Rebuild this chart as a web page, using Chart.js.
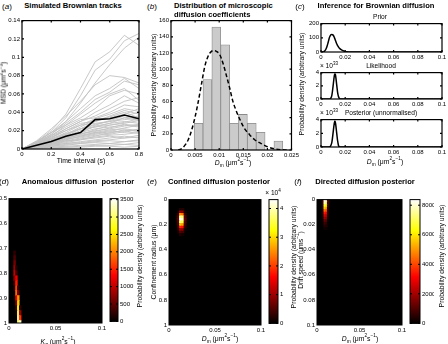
<!DOCTYPE html>
<html>
<head>
<meta charset="utf-8">
<script src="https://cdn.jsdelivr.net/npm/chart.js@4.4.1/dist/chart.umd.min.js"></script>
<style>
  html, body { margin: 0; padding: 0; background: #fff; }
  #fig { position: relative; width: 448px; height: 344px; overflow: hidden;
         font-family: "Liberation Sans", Arial, Helvetica, sans-serif; color: #000; }
  #fig canvas { position: absolute; }
  .lbl { position: absolute; white-space: nowrap; line-height: 1; transform: translate(-50%, -50%); }
  .lbl sup, .lbl sub { font-size: 70%; line-height: 0; }
  .ttl { font-weight: bold; font-size: 7.6px; }
  .ax { font-size: 6.8px; }
  .tag { font-size: 8px; }
  .sub { font-size: 6.6px; }
</style>
</head>
<body>
<div id="fig"></div>
<script>
// ---- (a) simulated Brownian tracks: MSD in units of 1e-3 um^2/s
const timeLags = [0, 0.1, 0.2, 0.3, 0.4, 0.5, 0.6, 0.7, 0.8]
const meanMsd = [0, 0.004, 0.0082, 0.014, 0.018, 0.032, 0.033, 0.037, 0.033]
const trackMsd = [
  [0, 8, 20, 38, 66, 95, 106, 124, 113],
  [0, 7, 18, 34, 58, 86, 98, 118, 126],
  [0, 6, 16, 30, 50, 72, 92, 110, 122],
  [0, 9, 22, 36, 52, 70, 80, 78, 72],
  [0, 8, 18, 30, 44, 58, 66, 77, 66],
  [0, 7, 16, 28, 40, 54, 62, 74, 70],
  [0, 6, 14, 26, 38, 50, 60, 66, 53],
  [0, 8, 18, 26, 34, 44, 58, 64, 60],
  [0, 5, 12, 22, 30, 40, 48, 58, 50],
  [0, 6, 14, 22, 30, 36, 44, 52, 56],
  [0, 7, 15, 24, 32, 34, 40, 48, 46],
  [0, 5, 11, 18, 26, 33, 38, 44, 41],
  [0, 6, 12, 20, 28, 30, 36, 42, 38],
  [0, 4, 10, 16, 24, 32, 34, 38, 44],
  [0, 5, 10, 15, 22, 27, 30, 34, 36],
  [0, 6, 13, 20, 26, 28, 30, 32, 34],
  [0, 4, 9, 14, 20, 24, 28, 30, 28],
  [0, 5, 10, 16, 22, 24, 26, 28, 31],
  [0, 4, 8, 13, 18, 22, 24, 26, 24],
  [0, 3, 7, 12, 16, 20, 22, 25, 27],
  [0, 4, 8, 12, 15, 18, 21, 22, 20],
  [0, 3, 6, 10, 14, 17, 20, 18, 22],
  [0, 3, 6, 9, 12, 15, 16, 19, 17],
  [0, 2, 5, 8, 11, 13, 15, 16, 18],
  [0, 3, 5, 7, 10, 12, 14, 12, 15],
  [0, 2, 4, 6, 8, 10, 12, 14, 12],
  [0, 2, 4, 6, 7, 9, 10, 12, 13],
  [0, 2, 3, 5, 6, 8, 9, 8, 10],
  [0, 1, 3, 4, 6, 7, 6, 8, 9],
  [0, 1, 2, 3, 4, 5, 6, 5, 7],
  [0, 1, 2, 2, 3, 4, 4, 5, 4],
  [0, 1, 1, 2, 2, 3, 3, 2, 3],
  [0, 4, 9, 15, 22, 30, 35, 40, 34],
  [0, 5, 11, 17, 22, 26, 31, 36, 40],
  [0, 3, 8, 12, 18, 25, 28, 34, 31],
  [0, 4, 7, 11, 16, 21, 26, 29, 33],
  [0, 5, 9, 13, 17, 19, 23, 27, 25],
  [0, 3, 6, 11, 13, 16, 19, 23, 26],
  [0, 2, 5, 9, 10, 14, 18, 20, 21],
  [0, 4, 8, 10, 14, 18, 17, 21, 19]
]

// ---- (b) histogram of microscopic D and fitted curve
const binCentres = [0.00572, 0.00756, 0.0094, 0.01124, 0.01308, 0.01492, 0.01676, 0.0186, 0.02044, 0.02228]
const binDensity = [33, 87, 152, 130, 33, 44, 33, 22, 0, 11]
const fitD = [0.0015, 0.00205, 0.0029, 0.0036, 0.0043, 0.005, 0.0057, 0.0064, 0.007, 0.0077, 0.0084, 0.009, 0.0094,
  0.0101, 0.0108, 0.0115, 0.0122, 0.0128, 0.0135, 0.0142, 0.0152, 0.0163, 0.0173, 0.0187, 0.02, 0.0214, 0.0228, 0.024]
const fitDensity = [0, 1, 6, 13, 25, 41, 61, 84, 103, 116, 122, 123, 122,
  118, 107, 92, 76, 61, 49, 39, 27, 19, 13, 8, 4, 1.6, 0.4, 0]

// ---- (c) likelihood and posterior (units of 1e33)
const likeD = [0, 0.007, 0.008, 0.009, 0.01, 0.011, 0.0115, 0.012, 0.013, 0.014, 0.015, 0.016, 0.1]
const likeValue = [0, 0, 0.1, 0.6, 2.0, 3.5, 3.8, 3.6, 2.1, 0.7, 0.12, 0, 0]
const postD = [0, 0.0068, 0.008, 0.009, 0.01, 0.011, 0.0115, 0.012, 0.013, 0.014, 0.0155, 0.1]
const postValue = [0, 0, 0.15, 0.7, 2.1, 3.5, 3.8, 3.5, 2.0, 0.65, 0, 0]

// ---- (d) anomalous posterior cells: rows = alpha, cols = K
const anomK = [0.004, 0.006, 0.008, 0.010, 0.012]
const anomAlpha = [0.72, 0.74, 0.76, 0.78, 0.80, 0.82, 0.84, 0.86, 0.88, 0.90, 0.92, 0.94, 0.96, 0.98, 1.00]
const anomDensity = [
  [0, 250, 0, 0, 0],
  [0, 400, 0, 0, 0],
  [0, 600, 0, 0, 0],
  [0, 800, 150, 0, 0],
  [0, 1000, 350, 0, 0],
  [0, 700, 1200, 0, 0],
  [0, 350, 1450, 0, 0],
  [0, 150, 1650, 200, 0],
  [0, 0, 1850, 550, 0],
  [0, 0, 1200, 2100, 0],
  [0, 0, 650, 2400, 0],
  [0, 0, 300, 2750, 250],
  [0, 0, 120, 3050, 800],
  [0, 0, 0, 3250, 1600],
  [0, 0, 0, 2900, 3400]
]
const anomMax = 3530
const anomTicks = [0, 500, 1000, 1500, 2000, 2500, 3000, 3500]

// ---- (e) confined posterior cells (units of 1e4): rows = radius, cols = D
const confD = [0.010, 0.0125, 0.015, 0.0175]
const confRadius = [0.08, 0.10, 0.12, 0.14, 0.16, 0.18, 0.20, 0.22, 0.24, 0.26, 0.28]
const confDensity = [
  [0, 0.2, 0.2, 0],
  [0.1, 0.9, 0.8, 0.1],
  [0.3, 2.5, 2.3, 0.3],
  [0.5, 3.9, 3.7, 0.5],
  [0.6, 4.25, 4.0, 0.6],
  [0.5, 3.7, 3.5, 0.5],
  [0.4, 2.8, 2.6, 0.4],
  [0.3, 1.8, 1.7, 0.3],
  [0.2, 1.0, 0.9, 0.1],
  [0.1, 0.5, 0.4, 0],
  [0, 0.2, 0.1, 0]
]
const confMax = 4.31
const confTicks = [0, 1, 2, 3, 4]

// ---- (f) directed posterior cells: rows = drift speed, cols = D
const dirD = [0.007, 0.009, 0.011, 0.013]
const dirSpeed = [0.001, 0.003, 0.005, 0.007, 0.009, 0.011, 0.013, 0.015, 0.017, 0.019, 0.021, 0.023]
const dirDensity = [
  [800, 8300, 7900, 900],
  [700, 7800, 7400, 800],
  [600, 6800, 6400, 700],
  [500, 5600, 5300, 550],
  [400, 4400, 4200, 450],
  [300, 3400, 3200, 350],
  [200, 2600, 2400, 250],
  [150, 1900, 1800, 200],
  [100, 1300, 1200, 100],
  [50, 800, 700, 50],
  [0, 450, 400, 0],
  [0, 200, 180, 0]
]
const dirMax = 8380
const dirTicks = [0, 2000, 4000, 6000, 8000]

// ---------------------------------------------------------------
Chart.defaults.font.family = '"Liberation Sans", Arial, Helvetica, sans-serif'
Chart.defaults.font.size = 6
Chart.defaults.color = '#000'
Chart.defaults.plugins.legend.display = false
Chart.defaults.plugins.tooltip.enabled = false

const fig = document.getElementById('fig')
const UNITS = '(μm<sup>2</sup>s<sup>−1</sup>)'

// box round the plot area, with small inward tick marks like the original
const framePlugin = {
  id: 'frame',
  beforeDatasetsDraw(chart, args, opts) {
    if (!opts.fill) return
    const a = chart.chartArea
    chart.ctx.save()
    chart.ctx.fillStyle = opts.fill
    chart.ctx.fillRect(a.left, a.top, a.width, a.height)
    chart.ctx.restore()
  },
  afterDatasetsDraw(chart, args, opts) {
    const { ctx, chartArea: a } = chart
    ctx.save()
    ctx.strokeStyle = '#000'
    ctx.lineWidth = opts.width || 1
    if (opts.ticks) {
      ctx.beginPath()
      for (const s of Object.values(chart.scales)) {
        if (!s.options.display) continue
        s.ticks.forEach((t, i) => {
          const p = s.getPixelForTick(i)
          if (s.isHorizontal()) {
            ctx.moveTo(p, a.bottom); ctx.lineTo(p, a.bottom - 2)
            ctx.moveTo(p, a.top); ctx.lineTo(p, a.top + 2)
          } else {
            ctx.moveTo(a.left, p); ctx.lineTo(a.left + 2, p)
            ctx.moveTo(a.right, p); ctx.lineTo(a.right - 2, p)
          }
        })
      }
      ctx.stroke()
    }
    ctx.strokeRect(a.left, a.top, a.width, a.height)
    ctx.restore()
  }
}

const fmt = v => String(+Number(v).toFixed(6))

function axis(min, max, step, extra) {
  return Object.assign({
    type: 'linear', min, max,
    grid: { display: false, drawTicks: false },
    border: { display: false },
    ticks: { stepSize: step, padding: 2, maxRotation: 0, autoSkip: false, includeBounds: false, callback: fmt }
  }, extra)
}

// place a canvas so that the plot area lands on the given rectangle
function addChart(area, yW, xH, rightAxis, config) {
  const pad = { top: 5, right: rightAxis ? 2 : 8, bottom: 4, left: rightAxis ? 1 : 2 }
  const left = Math.round(rightAxis ? area.l - pad.left : area.l - pad.left - yW)
  const top = Math.round(area.t - pad.top)
  const width = Math.round(area.r + pad.right + (rightAxis ? yW : 0)) - left
  const height = Math.round(area.b + xH + pad.bottom) - top
  const cv = document.createElement('canvas')
  cv.width = width
  cv.height = height
  cv.style.left = left + 'px'
  cv.style.top = top + 'px'
  cv.style.width = width + 'px'
  cv.style.height = height + 'px'
  fig.appendChild(cv)
  const o = config.options
  o.responsive = false
  o.animation = false
  o.devicePixelRatio = 1
  o.layout = { padding: pad }
  o.scales.x.afterFit = s => { s.height = xH }
  o.scales.y.afterFit = s => { s.width = yW }
  config.plugins = [framePlugin]
  return new Chart(cv, config)
}

function label(html, x, y, cls, rotate, alignLeft) {
  const el = document.createElement('div')
  el.className = 'lbl ' + cls
  el.innerHTML = html
  el.style.left = x + 'px'
  el.style.top = y + 'px'
  if (rotate) el.style.transform = 'translate(-50%, -50%) rotate(-90deg)'
  if (alignLeft) el.style.transform = 'translate(0, -50%)'
  fig.appendChild(el)
}

// matlab "hot" colour map
function hot(f) {
  f = Math.max(0, Math.min(1, f))
  const r = Math.min(1, f / 0.375)
  const g = Math.min(1, Math.max(0, (f - 0.375) / 0.375))
  const b = Math.max(0, (f - 0.75) / 0.25)
  return `rgb(${Math.round(r * 255)},${Math.round(g * 255)},${Math.round(b * 255)})`
}

function heatCells(cols, rows, values, max) {
  const half = (rows[1] - rows[0]) / 2
  const data = []
  const colors = []
  rows.forEach((y, i) => cols.forEach((x, j) => {
    const v = values[i][j]
    if (!v) return
    data.push({ x: x, y: [y - half, y + half] })
    colors.push(hot(v / max))
  }))
  return {
    type: 'bar', data: data, backgroundColor: colors, borderWidth: 0,
    grouped: false, barPercentage: 1, categoryPercentage: 1, inflateAmount: 0.3
  }
}

function heatmap(area, yW, cols, rows, values, max, xRange, yRange, yStep) {
  addChart(area, yW, 9, false, {
    type: 'bar',
    data: { datasets: [heatCells(cols, rows, values, max)] },
    options: {
      scales: {
        x: axis(xRange[0], xRange[1], 0.05, { offset: false }),
        y: axis(yRange[0], yRange[1], yStep, { reverse: true })
      },
      plugins: { frame: { fill: '#000' } }
    }
  })
}

function colorbar(area, yW, max, tickValues) {
  addChart(area, yW, 0, true, {
    type: 'bar',
    data: {
      labels: ['cb'],
      datasets: [{
        data: [[0, max]],
        barPercentage: 1, categoryPercentage: 1, borderWidth: 0,
        backgroundColor(ctx) {
          const a = ctx.chart.chartArea
          if (!a) return '#000'
          const g = ctx.chart.ctx.createLinearGradient(0, a.bottom, 0, a.top)
          g.addColorStop(0, '#000')
          g.addColorStop(0.375, '#f00')
          g.addColorStop(0.75, '#ff0')
          g.addColorStop(1, '#fff')
          return g
        }
      }]
    },
    options: {
      scales: {
        x: { display: false },
        y: axis(0, max, null, {
          position: 'right',
          afterBuildTicks: s => { s.ticks = tickValues.map(v => ({ value: v })) }
        })
      },
      plugins: { frame: { ticks: true } }
    }
  })
}

function curve(xs, ys, extra) {
  return Object.assign({
    type: 'line',
    data: xs.map((x, i) => ({ x: x, y: ys[i] })),
    borderColor: '#000', borderWidth: 1.5, pointRadius: 0,
    cubicInterpolationMode: 'monotone'
  }, extra)
}

// ---- (a)
const trackSets = trackMsd.map(tr => ({
  data: timeLags.map((t, i) => ({ x: t, y: tr[i] / 1000 })),
  borderColor: '#c2c2c2', borderWidth: 0.9, pointRadius: 0
}))
addChart({ l: 22, t: 20, r: 138.5, b: 149 }, 17, 8, false, {
  type: 'line',
  data: {
    datasets: [{
      data: timeLags.map((t, i) => ({ x: t, y: meanMsd[i] })),
      borderColor: '#000', borderWidth: 1.6, pointRadius: 0
    }].concat(trackSets)
  },
  options: {
    scales: { x: axis(0, 0.8, 0.2), y: axis(0, 0.14, 0.02) },
    plugins: { frame: { ticks: true, width: 1.2 } }
  }
})

// ---- (b)
addChart({ l: 171, t: 20, r: 293, b: 150 }, 14, 8, false, {
  type: 'bar',
  data: {
    datasets: [
      curve(fitD, fitDensity, { borderDash: [4, 2.5] }),
      {
        type: 'bar',
        data: binCentres.map((x, i) => ({ x: x, y: binDensity[i] })),
        backgroundColor: '#cbcbcb', borderColor: '#8a8a8a', borderWidth: 0.8,
        barPercentage: 1, categoryPercentage: 1
      }
    ]
  },
  options: {
    scales: { x: axis(0, 0.025, 0.005, { offset: false }), y: axis(0, 160, 20) },
    plugins: { frame: { ticks: true, width: 1.2 } }
  }
})

// ---- (c) three stacked panels
const priorD = [0].concat(fitD, [0.1])
const priorValue = [0].concat(fitDensity, [0])
const cPanels = [
  { area: { l: 321, t: 23, r: 442, b: 52 }, xs: priorD, ys: priorValue, max: 200, step: 100 },
  { area: { l: 321, t: 72, r: 442, b: 99 }, xs: likeD, ys: likeValue, max: 4, step: 2 },
  { area: { l: 321, t: 119, r: 442, b: 147 }, xs: postD, ys: postValue, max: 4, step: 2 }
]
cPanels.forEach(p => {
  addChart(p.area, 14, 8, false, {
    type: 'line',
    data: { datasets: [curve(p.xs, p.ys, { cubicInterpolationMode: 'default', tension: 0.35 })] },
    options: {
      scales: { x: axis(0, 0.1, 0.02), y: axis(0, p.max, p.step) },
      plugins: { frame: { ticks: true, width: 1.2 } }
    }
  })
})

// ---- (d), (e), (f) posteriors
heatmap({ l: 9, t: 198, r: 102, b: 323 }, 18, anomK, anomAlpha, anomDensity, anomMax, [0, 0.1], [0.5, 1], 0.1)
colorbar({ l: 110, t: 198, r: 118, b: 323 }, 16, anomMax, anomTicks)

heatmap({ l: 169, t: 199, r: 261, b: 325 }, 14, confD, confRadius, confDensity, confMax, [0, 0.1], [0, 1], 0.2)
colorbar({ l: 269, t: 199, r: 278, b: 325 }, 8, confMax, confTicks)

heatmap({ l: 317, t: 199, r: 402, b: 325 }, 14, dirD, dirSpeed, dirDensity, dirMax, [0, 0.1], [0, 0.1], 0.02)
colorbar({ l: 410, t: 199, r: 420, b: 325 }, 14, dirMax, dirTicks)

// ---- text
const PD = 'Probability density (arbitrary units)'
label('(<i>a</i>)', 7, 7, 'tag')
label('Simulated Brownian tracks', 73, 6, 'ttl')
label('MSD ' + UNITS, 4, 83, 'ax', true)
label('Time interval (s)', 81, 161, 'ax')

label('(<i>b</i>)', 152, 7, 'tag')
label('Distribution of microscopic', 174, 6, 'ttl', false, true)
label('diffusion coefficients', 174, 15, 'ttl', false, true)
label(PD, 154, 85, 'ax', true)
label('<i>D</i><sub>m</sub> ' + UNITS, 233, 163, 'ax')

label('(<i>c</i>)', 300, 7, 'tag')
label('Inference for Brownian diffusion', 376, 6, 'ttl')
label('Prior', 380, 17, 'sub')
label('Likelihood', 381, 66, 'sub')
label('Posterior (unnormalised)', 381, 113, 'sub')
label('× 10<sup>33</sup>', 329, 66, 'sub')
label('× 10<sup>33</sup>', 329, 113, 'sub')
label(PD, 302, 84, 'ax', true)
label('<i>D</i><sub>m</sub> ' + UNITS, 385, 162, 'ax')

label('(<i>d</i>)', 4, 182, 'tag')
label('Anomalous diffusion&nbsp; posterior', 78, 182, 'ttl')
label(PD, 140, 256, 'ax', true)
label('<i>K</i><sub>α</sub> ' + UNITS, 58, 342, 'ax')

label('(<i>e</i>)', 152, 182, 'tag')
label('Confined diffusion posterior', 219, 182, 'ttl')
label('Confinement radius (μm)', 154, 262, 'ax', true)
label('<i>D</i><sub>m</sub> ' + UNITS, 220, 339, 'ax')
label('× 10<sup>4</sup>', 273, 193, 'sub')
label(PD, 293.5, 257, 'ax', true)

label('(<i>f</i>)', 298, 182, 'tag')
label('Directed diffusion posterior', 365, 182, 'ttl')
label('Drift speed (μms<sup>−1</sup>)', 300.5, 260, 'ax', true)
label('<i>D</i><sub>m</sub> ' + UNITS, 360, 339, 'ax')
label(PD, 442, 256, 'ax', true)
</script>
</body>
</html>
